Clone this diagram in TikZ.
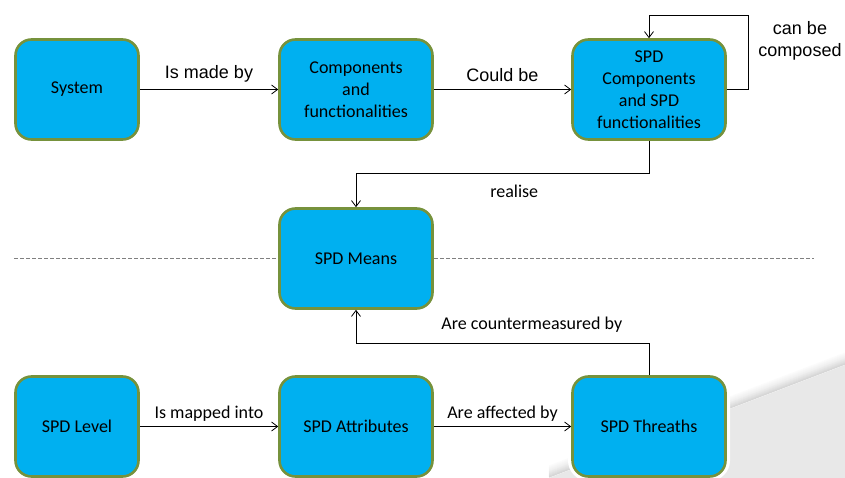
\documentclass[tikz,border=0pt]{standalone}
\usepackage{fontspec}
\setmainfont{Carlito}
\newfontfamily\arialfont{Liberation Sans}
\usetikzlibrary{arrows.meta}
\definecolor{boxfill}{HTML}{00B0F0}
\definecolor{boxline}{HTML}{76923C}
\definecolor{swoosh}{HTML}{E8E8E8}

\begin{document}
\begin{tikzpicture}[x=1pt, y=-1pt,
		block/.style={shape=rectangle, rounded corners=16pt, draw=boxline, line width=2.6pt, fill=boxfill, minimum height=100pt, align=center, font=\fontsize{18}{22}\selectfont},
		narrow/.style={block, minimum width=123pt},
		wide/.style={block, minimum width=153pt},
		halo/.style={preaction={draw=white, line width=9pt}},
		link/.style={draw, line width=0.8pt, -{Straight Barb[length=6pt, width=9pt]}},
		note/.style={font=\fontsize{18}{22}\selectfont},
		arial/.style={font=\arialfont\fontsize{18}{22}\selectfont},
		divider/.style={draw=black!50, line width=1pt, dash pattern=on 4pt off 2pt}]
			\useasboundingbox (0,0) rectangle (845,478);
			% slide background swoosh
			\foreach \d/\c in {12/1, 11/2, 10/3, 9/4, 8/5, 7/6, 6/8, 5/9, 4/11, 3/12, 2/14, 1/16}
				\draw[line width=1.3pt, black!\c] (549,478-\d) -- (845,365-\d);
			\fill[swoosh] (549,478) -- (845,365) -- (845,478) -- cycle;
			% separator
			\coordinate (divleft) at (14,258);
			\coordinate (divright) at (814,258);
			\draw[divider] (divleft) -- (divright);
			% boxes
			\coordinate (sysc) at (77,89.5);
			\coordinate (compc) at (356,89.5);
			\coordinate (spdcompc) at (649,89.5);
			\coordinate (meansc) at (356,258.5);
			\coordinate (levelc) at (77,426.5);
			\coordinate (attrc) at (356,426.5);
			\coordinate (threatc) at (649,426.5);
			\node (sys) at (sysc) [narrow] {System};
			\node (comp) at (compc) [wide] {Components\\and\\functionalities};
			\node (spdcomp) at (spdcompc) [wide] {SPD\\Components\\and SPD\\functionalities};
			\node (means) at (meansc) [wide] {SPD Means};
			\node (level) at (levelc) [narrow] {SPD Level};
			\node (attr) at (attrc) [wide] {SPD Attributes};
			\node (threat) at (threatc) [wide, halo] {SPD Threaths};
			% links
			\coordinate (loopcorner) at (748,15);
			\draw[link] (sys) -- node [arial, above=4pt] {Is made by} (comp);
			\draw[link] (comp) -- node [arial, above=4pt] {Could be} (spdcomp);
			\draw[link] (spdcomp.east) -| (loopcorner) -| (spdcomp.north);
			\node (composed) at (800,41) [arial, align=center] {can be\\composed};
			\draw[link] (spdcomp.south) -- ++(0,33) -| node [note, below=7pt, pos=0.23] {realise} (means.north);
			\draw[link] (threat.north) -- ++(0,-32) -| node [note, above=7pt, pos=0.2] {Are countermeasured by} (means.south);
			\draw[link] (level) -- node [note, above=1pt] {Is mapped into} (attr);
			\draw[link] (attr) -- node [note, above=1pt] {Are affected by} (threat);
		\end{tikzpicture}
\end{document}
